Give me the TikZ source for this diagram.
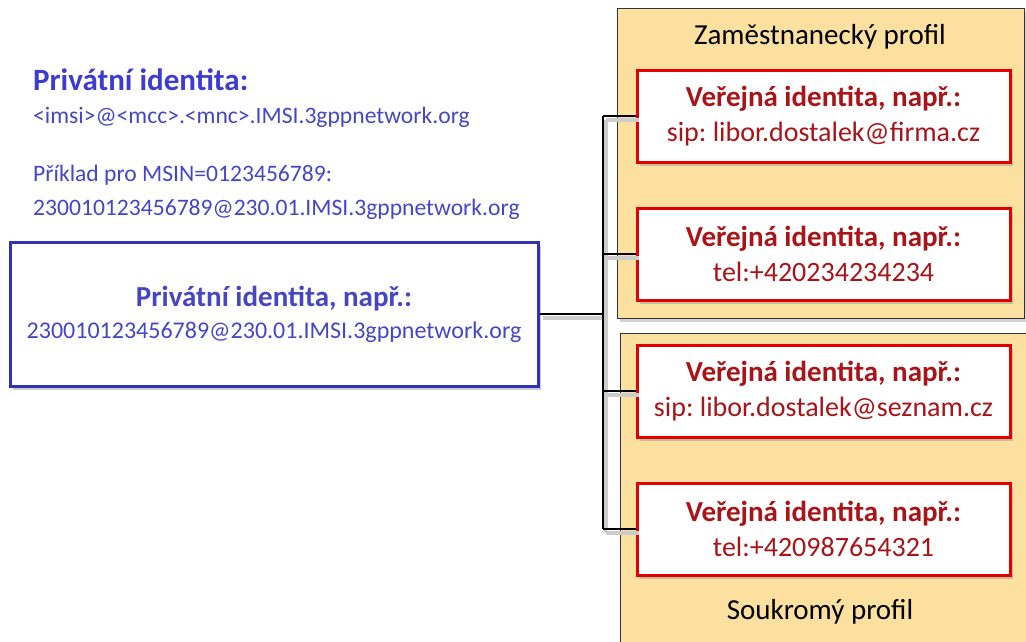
\documentclass[tikz,border=0pt]{standalone}
\usepackage{fontspec}
\setmainfont{Carlito}
\usetikzlibrary{shadows}
\frenchspacing
\definecolor{privblue}{RGB}{70,70,196}
\definecolor{titleblue}{RGB}{60,60,208}
\definecolor{boxblue}{RGB}{50,50,180}
\definecolor{pubred}{RGB}{226,0,0}
\definecolor{pubtext}{RGB}{168,20,24}
\definecolor{profyellow}{RGB}{251,224,160}

\begin{document}
\begin{tikzpicture}[x=1pt,y=-1pt]
                \tikzstyle{left text}=[anchor=base west,inner sep=0,text=privblue,font=\fontsize{23.6}{28}\selectfont]
                \tikzstyle{priv box}=[draw=boxblue,line width=3pt,fill=white,minimum width=528pt,minimum height=144pt,align=center,text=privblue,font=\fontsize{24}{32}\selectfont,drop shadow={shadow xshift=3pt,shadow yshift=-4pt,fill=black!40}]
                \tikzstyle{profile box}=[draw=black!80,line width=0.8pt,fill=profyellow,drop shadow={shadow xshift=3pt,shadow yshift=-4pt,fill=black!35}]
                \tikzstyle{profile label}=[font=\fontsize{29}{32}\selectfont]
                \tikzstyle{pub box}=[draw=pubred,line width=3pt,fill=white,minimum width=373pt,minimum height=92pt,align=center,text=pubtext,font=\fontsize{28}{35}\selectfont,drop shadow={shadow xshift=3pt,shadow yshift=-4pt,fill=black!40}]
                \tikzstyle{conn}=[line width=2.6pt,preaction={draw=black!20,line width=4pt,transform canvas={shift={(3pt,-4pt)}}}]
                \useasboundingbox (0,0) rectangle (1026,641);
                \node[left text,text=titleblue,font=\fontsize{31}{34}\selectfont\bfseries] (ptitle) at (33,90) {Privátní identita:};
                \node[left text] (pformat) at (33,123) {<imsi>@<mcc>.<mnc>.IMSI.3gppnetwork.org};
                \node[left text] (pexample) at (33,181) {Příklad pro MSIN=0123456789:};
                \node[left text] (pvalue) at (33,215) {230010123456789@230.01.IMSI.3gppnetwork.org};
                \node[priv box] (priv) at (274,314) {{\bfseries\fontsize{29}{32}\selectfont Privátní identita, např.:}\\230010123456789@230.01.IMSI.3gppnetwork.org};
                \node[profile box,minimum width=407pt,minimum height=310pt] (emp) at (820.5,163) {};
                \node[profile box,minimum width=410pt,minimum height=312pt] (home) at (825,489) {};
                \node[profile label] (emplabel) at (820,37) {Zaměstnanecký profil};
                \node[profile label] (homelabel) at (820,612) {Soukromý profil};
                \node[pub box] (pub1) at (823.5,116) {{\bfseries\fontsize{29}{35}\selectfont Veřejná identita, např.:}\\sip: libor.dostalek@firma.cz};
                \node[pub box] (pub2) at (823.5,254) {{\bfseries\fontsize{29}{35}\selectfont Veřejná identita, např.:}\\tel:+420234234234};
                \node[pub box] (pub3) at (823.5,391) {{\bfseries\fontsize{29}{35}\selectfont Veřejná identita, např.:}\\sip: libor.dostalek@seznam.cz};
                \node[pub box] (pub4) at (823.5,529) {{\bfseries\fontsize{29}{35}\selectfont Veřejná identita, např.:}\\tel:+420987654321};
                \coordinate (bus) at (603,0);
                \draw[conn] (priv.east) -- (priv.east -| bus);
                \draw[conn] (bus |- pub1.west) -- (bus |- pub4.west);
                \foreach \n in {1,...,4}
                \draw[conn] (bus |- pub\n.west) -- (pub\n.west);
\end{tikzpicture}
\end{document}
